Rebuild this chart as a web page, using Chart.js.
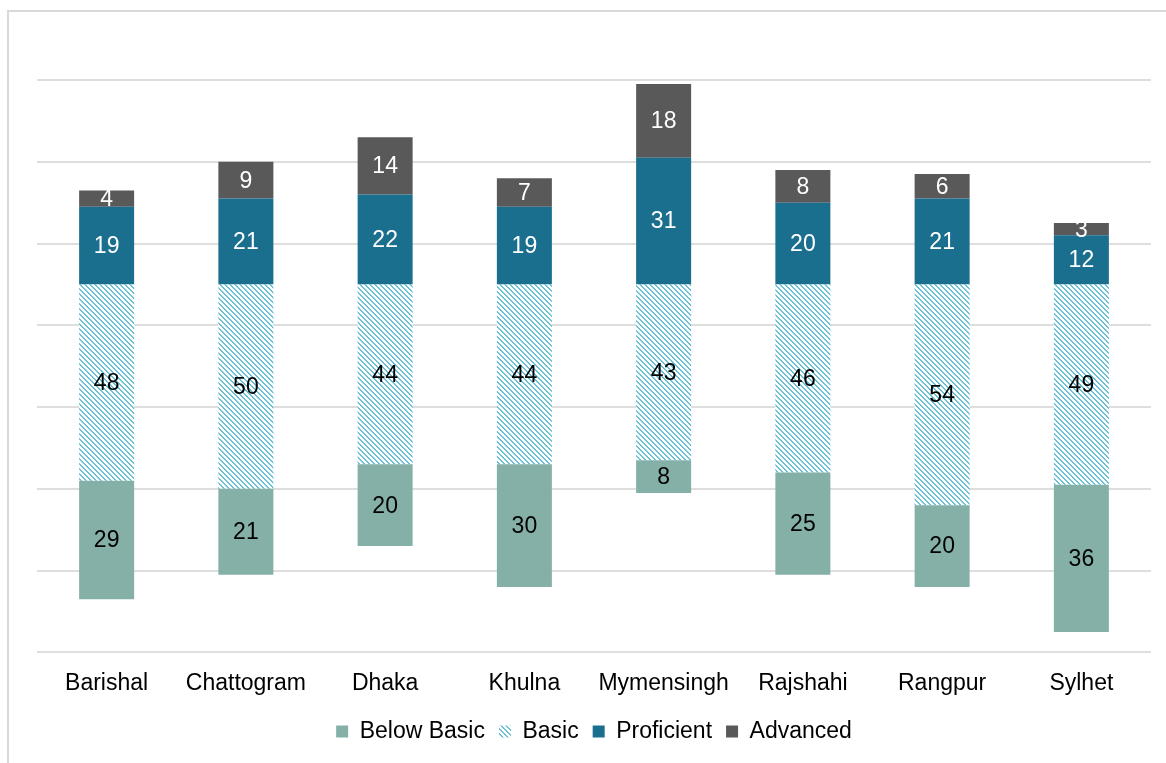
<!DOCTYPE html>
<html>
<head>
<meta charset="utf-8">
<script src="https://cdn.jsdelivr.net/npm/chart.js@4.4.0/dist/chart.umd.min.js"></script>
<style>
  html, body { margin: 0; padding: 0; background: #ffffff; }
  #wrap { position: relative; width: 1166px; height: 763px; }
  #frame { position: absolute; left: 7px; top: 10px; right: 0; bottom: 0;
           border-top: 2px solid #d9d9d9; border-left: 2px solid #d9d9d9; pointer-events: none; }
  canvas { position: absolute; left: 0; top: 0; }
</style>
</head>
<body>
<div id="wrap">
  <canvas id="chart" width="1166" height="763"></canvas>
  <div id="frame"></div>
</div>
<script>
// Divisions
const categories = ['Barishal', 'Chattogram', 'Dhaka', 'Khulna', 'Mymensingh', 'Rajshahi', 'Rangpur', 'Sylhet'];

// Share of students at each performance level (%)
const belowBasic = [29, 21, 20, 30, 8, 25, 20, 36];
const basic      = [48, 50, 44, 44, 43, 46, 54, 49];
const proficient = [19, 21, 22, 19, 31, 20, 21, 12];
const advanced   = [4, 9, 14, 7, 18, 8, 6, 3];

const seriesNames = ['Below Basic', 'Basic', 'Proficient', 'Advanced'];

// Value axis range and gridline spacing
const axisMin = -90;
const axisMax = 50;
const axisStep = 20;

const FONT = '"Liberation Sans", Arial, sans-serif';

// Diagonal hatch used for the "Basic" level
function makeHatch(color) {
  const size = 5;
  const c = document.createElement('canvas');
  c.width = size; c.height = size;
  const g = c.getContext('2d');
  g.fillStyle = '#ffffff';
  g.fillRect(0, 0, size, size);
  g.fillStyle = color;
  for (let y = 0; y < size; y++) {
    for (let x = 0; x < size; x++) {
      const d = ((x - y) % size + size) % size;
      if (d === 0 || d === 1) g.fillRect(x, y, 1, 1);
    }
  }
  return g.createPattern(c, 'repeat');
}

const ctx = document.getElementById('chart').getContext('2d');
const hatch = makeHatch('#6cc1d5');

// Lower levels hang below zero (Basic nearest the axis), higher levels sit above it.
const belowRanges = basic.map((b, i) => [-(b + belowBasic[i]), -b]);
const basicRanges = basic.map(b => [-b, 0]);
const profRanges  = proficient.map(p => [0, p]);
const advRanges   = proficient.map((p, i) => [p, p + advanced[i]]);

const seriesValues = [belowBasic, basic, proficient, advanced];
const labelColors = ['#000000', '#000000', '#ffffff', '#ffffff'];

const barCommon = { grouped: false, categoryPercentage: 0.395, barPercentage: 1, borderWidth: 0 };

const segmentLabels = {
  id: 'segmentLabels',
  afterDatasetsDraw(chart) {
    const c = chart.ctx;
    c.save();
    c.font = '23px ' + FONT;
    c.textAlign = 'center';
    c.textBaseline = 'middle';
    chart.data.datasets.forEach((ds, di) => {
      const meta = chart.getDatasetMeta(di);
      if (meta.hidden) return;
      meta.data.forEach((el, i) => {
        const y = (el.y + el.base) / 2;
        c.fillStyle = labelColors[di];
        c.fillText(String(seriesValues[di][i]), el.x, y + 1);
      });
    });
    c.restore();
  }
};

new Chart(ctx, {
  type: 'bar',
  data: {
    labels: categories,
    datasets: [
      Object.assign({ label: seriesNames[0], data: belowRanges, backgroundColor: '#84b0a8' }, barCommon),
      Object.assign({ label: seriesNames[1], data: basicRanges, backgroundColor: hatch }, barCommon),
      Object.assign({ label: seriesNames[2], data: profRanges, backgroundColor: '#1a6e8e' }, barCommon),
      Object.assign({ label: seriesNames[3], data: advRanges, backgroundColor: '#595959' }, barCommon)
    ]
  },
  options: {
    responsive: false,
    devicePixelRatio: 1,
    animation: false,
    layout: { padding: { left: 37, right: 15, top: 80, bottom: 10 } },
    scales: {
      x: {
        grid: { display: false },
        border: { display: false },
        ticks: {
          color: '#000000',
          padding: 9,
          font: { family: FONT, size: 23 }
        }
      },
      y: {
        min: axisMin,
        max: axisMax,
        ticks: { display: false, stepSize: axisStep },
        grid: { color: '#dedede', lineWidth: 2, drawTicks: false },
        border: { display: false },
        afterFit(scale) { scale.width = 0; }
      }
    },
    plugins: {
      legend: {
        position: 'bottom',
        labels: {
          boxWidth: 12,
          boxHeight: 12,
          padding: 14,
          color: '#000000',
          font: { family: FONT, size: 23 }
        }
      },
      tooltip: { enabled: false }
    }
  },
  plugins: [segmentLabels]
});
</script>
</body>
</html>
